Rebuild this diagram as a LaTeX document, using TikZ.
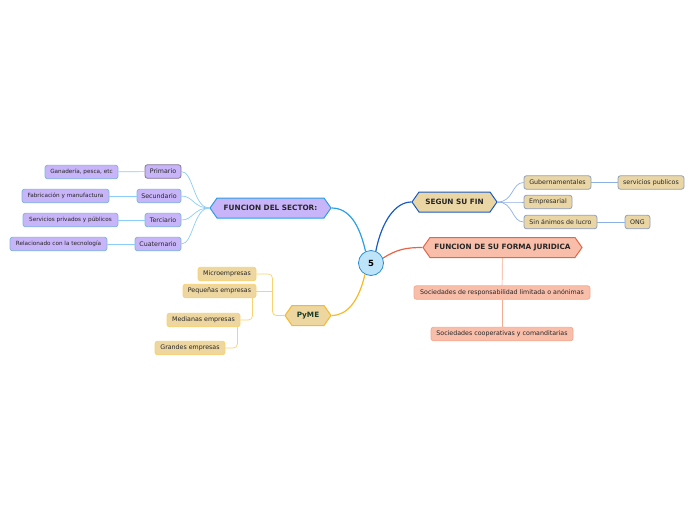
\documentclass[tikz,border=0pt]{standalone}
\usepackage{fontspec}
\setmainfont{DejaVu Sans}
\usepackage{tikz}
\usetikzlibrary{shapes.symbols, positioning}
\newcommand{\mapfont}{\fontsize{6.3}{7.5}\selectfont}
\newcommand{\leaffont}{\fontsize{5.7}{6.6}\selectfont}
\definecolor{rootfill}{RGB}{190, 228, 250}
\definecolor{rootedge}{RGB}{40, 140, 210}
\definecolor{sectorfill}{RGB}{200, 180, 248}
\definecolor{sectoredge}{RGB}{40, 160, 230}
\definecolor{sectorline}{RGB}{140, 205, 245}
\definecolor{primedge}{RGB}{130, 115, 150}
\definecolor{finfill}{RGB}{234, 214, 165}
\definecolor{finedge}{RGB}{25, 90, 195}
\definecolor{finline}{RGB}{140, 175, 230}
\definecolor{finchild}{RGB}{140, 160, 200}
\definecolor{jurfill}{RGB}{248, 190, 170}
\definecolor{juredge}{RGB}{232, 100, 70}
\definecolor{jurline}{RGB}{245, 170, 145}
\definecolor{pymefill}{RGB}{237, 214, 160}
\definecolor{pymeedge}{RGB}{246, 185, 40}
\definecolor{pymeline}{RGB}{250, 210, 110}
\definecolor{pymetext}{RGB}{25, 60, 40}

\begin{document}
\begin{tikzpicture}[
    x=1pt, y=-1pt,
    root/.style={circle, draw=rootedge, fill=rootfill, line width=0.8pt, minimum size=25pt, inner sep=0pt, font=\fontsize{8.5}{9}\selectfont\bfseries},
    mainhex/.style={signal, signal to=east and west, signal pointer angle=110, line width=1pt, minimum height=20pt, inner sep=1pt, text=black!85, font=\fontsize{7.3}{8}\selectfont\bfseries},
    topic/.style={rectangle, rounded corners=2.5pt, line width=0.8pt, minimum height=13.5pt, inner xsep=1pt, inner ysep=0pt, text=black!85, font=\mapfont},
    leaf/.style={topic, font=\leaffont},
    sectorbox/.style={topic, fill=sectorfill, draw=sectorline!90!black},
    sectorleaf/.style={leaf, fill=sectorfill, draw=sectorline!90!black},
    finbox/.style={topic, fill=finfill, draw=finchild},
    jurbox/.style={topic, fill=jurfill, draw=jurline},
    pymebox/.style={topic, fill=pymefill, draw=pymeline},
    branch/.style={line width=1.2pt},
    twig/.style={line width=0.7pt}
]
\useasboundingbox (0,0) rectangle (696,520);

% Central idea
\node[root] (root) at (371,263) {5};

% Main branches
\node[mainhex, fill=sectorfill, draw=sectoredge, minimum width=121pt] (sector) at (270.5,208) {FUNCION DEL SECTOR:};
\node[mainhex, fill=finfill, draw=finedge, minimum width=85pt] (fin) at (454.5,202) {SEGUN SU FIN};
\node[mainhex, fill=jurfill, draw=juredge, minimum width=159pt] (jur) at (502.5,247.5) {FUNCION DE SU FORMA JURIDICA};
\node[mainhex, fill=pymefill, draw=pymeedge, minimum width=46pt, text=pymetext] (pyme) at (308,315.5) {PyME};

% Sector children
\node[sectorbox, draw=primedge, minimum width=36pt] (primario) at (163,171.5) {Primario};
\node[sectorbox, minimum width=44pt] (secundario) at (159,196) {Secundario};
\node[sectorbox, minimum width=36pt] (terciario) at (163,220) {Terciario};
\node[sectorbox, minimum width=46pt] (cuaternario) at (158,244) {Cuaternario};

\node[sectorleaf, minimum width=73pt] (ganaderia) at (81.5,172) {Ganadería, pesca, etc};
\node[sectorleaf, minimum width=87pt] (fabricacion) at (65.5,196) {Fabricación y manufactura};
\node[sectorleaf, minimum width=95pt] (servicios) at (70.5,220) {Servicios privados y públicos};
\node[sectorleaf, minimum width=97pt] (tecnologia) at (58.5,244) {Relacionado con la tecnología};

% Fin children
\node[finbox, minimum width=67pt] (gubern) at (557.5,182.5) {Gubernamentales};
\node[finbox, minimum width=48pt] (empresarial) at (548,202) {Empresarial};
\node[finbox, minimum width=73pt] (sinlucro) at (560.5,222) {Sin ánimos de lucro};
\node[finbox, minimum width=66pt] (servpub) at (651,182.5) {servicios publicos};
\node[finbox, minimum width=25pt] (ong) at (637.5,222) {ONG};

% Forma juridica children
\node[jurbox, minimum width=176pt] (limitada) at (502,292.5) {Sociedades de responsabilidad limitada o anónimas};
\node[jurbox, minimum width=142pt] (cooperativa) at (502,334) {Sociedades cooperativas y comanditarias};

% PyME children
\node[pymebox, minimum width=58pt] (micro) at (227,274) {Microempresas};
\node[pymebox, minimum width=73pt] (pequena) at (219.5,291) {Pequeñas empresas};
\node[pymebox, minimum width=73pt] (mediana) at (203.5,320) {Medianas empresas};
\node[pymebox, minimum width=70pt] (grande) at (190,348) {Grandes empresas};

% Connectors from the centre
\draw[branch, sectoredge] (root.115) .. controls +(-6,-26) and +(18,0) .. (sector.east);
\draw[branch, finedge] (root.68) .. controls +(6,-30) and +(-16,0) .. (fin.west);
\draw[branch, juredge] (root.22) .. controls +(14,-9) and +(-16,0) .. (jur.west);
\draw[branch, pymeedge] (root.242) .. controls +(-6,26) and +(16,0) .. (pyme.east);

% Sector connectors
\foreach \n in {primario, secundario, terciario, cuaternario}
  \draw[twig, sectorline] (sector.west) .. controls +(-16,0) and +(12,0) .. (\n.east);
\draw[twig, sectorline] (primario) -- (ganaderia);
\draw[twig, sectorline] (secundario) -- (fabricacion);
\draw[twig, sectorline] (terciario) -- (servicios);
\draw[twig, sectorline] (cuaternario) -- (tecnologia);

% Fin connectors
\foreach \n in {gubern, empresarial, sinlucro}
  \draw[twig, finline] (fin.east) .. controls +(16,0) and +(-12,0) .. (\n.west);
\draw[twig, finline] (gubern) -- (servpub);
\draw[twig, finline] (sinlucro) -- (ong);

% Forma juridica connectors
\draw[twig, jurline] (jur) -- (limitada);
\draw[twig, jurline] (limitada) -- (cooperativa);

% PyME connectors
\draw[twig, pymeline, rounded corners=4pt] (micro.east) -- ++(16,0) |- (pyme.west);
\draw[twig, pymeline] (pequena.east) -- ++(16,0);
\draw[twig, pymeline, rounded corners=4pt] ([xshift=-4pt]pequena.south east) |- (mediana.east);
\draw[twig, pymeline, rounded corners=4pt] ([xshift=-3pt]mediana.south east) |- (grande.east);

\end{tikzpicture}
\end{document}
